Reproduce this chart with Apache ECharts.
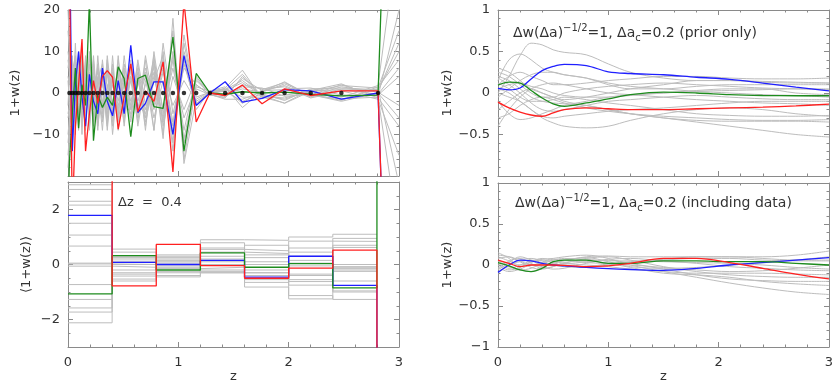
<!DOCTYPE html>
<html><head><meta charset="utf-8">
<script src="https://cdn.jsdelivr.net/npm/echarts@6/dist/echarts.min.js"></script>
<style>html,body{margin:0;padding:0;background:#fff}#c{width:839px;height:386px}</style>
</head><body><div id="c"></div>
<script>
// ---------- DATA ----------
// top-left: node redshifts (bin centres), values at z=0, at each node, and at z=3
const zDots = [0.013,0.039,0.067,0.096,0.127,0.159,0.194,0.231,0.270,0.312,0.356,0.404,0.455,0.509,0.569,0.633,0.702,0.779,0.862,0.951,1.051,1.162,1.286,1.424,1.581,1.759,1.963,2.200,2.478,2.810];
const tlBlue  = [60, 40,-14,2,10,-1,-8,4.5,-2,-5,6, -2,-5.5,3,-5,11.5,-4.7,-2.5,2.7,2.7,-10, 9,-3,0,2.7,-2.2,-1.3,0.8,0.5,-1.5,0, -150];
const tlGreen = [-30, -16.5,-5,6,-8.5,2,-3,22,-11.5,-0.5,-3.5, -1,-3,6.3,3.5,-10.5,3.5,4.3,-3.3,-3.7,13.5, -14,4.7,0,-0.3,0.3,0,0.2,-0.3,-0.7,-0.5, 150];
const tlRed   = [40, 30,-30,-8,2,13,-14,-5,3,-2.5,4, 5.4,3.8,-8.7,-1,7,-4.5,0.5,-2,7.5,-19, 22,-7,0,-0.6,1.9,-2.6,1,-0.6,0.5,0.5, -150];
const tlGray = [
 [15, 10,-8,6,-9,8,-5,7,-6,4,-7, 9,-3,5,-8,6,-2,4,-9,10,-12, 14,-3,0.3,1,-2.5,0.8,2.5,-0.5,2,-0.8, 20],
 [-18, -12,9,-7,5,-10,8,-4,6,-8,3, -5,7,-9,4,-3,7,-6,8,-10,15, -16,2,-0.4,-1.2,4,-1,-2.4,0.8,-1.6,1, -22],
 [8, 5,-4,12,-6,3,-9,10,-2,6,-5, 2,-6,8,-3,4,-6,9,-3,6,-7, 8,-4,0.5,1.5,-3.5,0.5,1.8,-1,1,0.5, 12],
 [-5, -3,6,-10,8,-6,4,-3,9,-4,6, -7,4,-2,6,-7,3,-4,5,-7,10, -11,3,-0.2,0.5,2.5,-0.6,-1.5,0.6,2.2,-1.2, -8],
 [20, 12,-10,4,3,-4,9,-8,4,-6,8, -3,2,-4,7,-2,4,-8,7,-4,6, -6,1.5,0.4,-0.8,1.5,1.2,-0.8,-0.3,-1.8,1.5, 8],
 [-10, -6,3,-4,10,-8,2,5,-7,9,-4, 5,-8,3,-5,8,-4,6,-2,8,-14, 12,-2.5,0,1.2,5.5,-1.4,1,1.2,-0.5,-0.5, 4],
 [4, 2,7,-6,-3,6,-7,4,-3,2,-9, 6,-4,6,-2,-5,8,-3,9,-8,4, -4,3.5,-0.3,-1.5,-1.5,0.3,2.7,-0.8,1.5,0.2, -3],
 [-12, -8,-2,8,-7,10,-3,-2,8,-5,4, -9,5,-6,9,-4,2,5,-6,3,-8, 10,-1,0.2,0.8,3,-0.5,-2.5,0.4,-1,1.8, 40],
 [6, 9,-12,3,6,-2,7,-9,2,5,-3, 7,-10,4,-4,3,-7,8,-9,12,-5, 6,2,-0.5,-1,2,1,1.5,-1.2,0.5,-1.5, -15],
 [-6, -4,5,9,-4,-5,6,2,-8,3,7, -6,3,-3,2,6,-5,2,6,-11,18, -17,-1.5,0.3,0.4,-2,-0.2,-1.8,1,1.2,0.8, 10],
 [10, 7,-6,-2,9,-7,5,-6,3,-9,5, 2,-7,9,-6,4,-3,-5,4,-6,8, -9,4,-0.2,-0.5,3.5,0.6,0.8,-0.4,-2,0, -6],
 [-15, -10,8,-5,-6,7,-8,9,-4,7,-2, -4,6,-5,5,-6,5,-7,3,9,-10, 7,-3,0.5,1,-1,-1,-0.5,0.3,1.8,1.2, 15],
 [3, -2,4,-8,4,9,-6,3,5,-7,3, -8,9,-7,3,-4,6,-9,10,-5,9, -12,1,-0.4,-0.3,1,0.2,2.2,-0.6,-1.4,-1, -35],
 [-3, 4,-5,6,-7,2,3,-5,7,-3,-6, 8,-5,2,-7,7,-8,3,-4,5,-3, 3,-2,0.1,0.7,4.5,-0.8,-1.2,0.5,0.8,-0.3, 6]
];
// bottom-left: binned averages, Δz = 0.4
const binEdges = [0,0.4,0.8,1.2,1.6,2.0,2.4,2.8];
const blBlue  = [1.79,0.08,0.0,0.15,-0.46,0.3,-0.76];
const blGreen = [-1.07,0.32,-0.2,0.42,-0.1,0.03,-0.85];
const blRed   = [4.5,-0.78,0.73,-0.04,-0.5,-0.13,0.52];
const blTail  = {blue:-10, green:10, red:-10};
const blGray = [
 [2.9,0.56,0.3,0.9,0.88,1.0,1.1],
 [2.73,0.45,-0.45,0.79,-0.82,-1.13,-1.27],
 [2.3,-0.3,0.2,0.55,0.5,0.85,0.84],
 [2.16,0.2,0.1,-0.3,0.7,-0.55,0.62],
 [1.5,-0.42,-0.3,0.3,-0.3,0.6,-0.96],
 [1.07,0.12,0.35,-0.2,0.35,-1.25,0.7],
 [0.67,-0.53,-0.05,0.2,-0.55,0.45,-0.2],
 [0.02,0.0,-0.15,-0.1,-0.65,0.15,-0.08],
 [-0.06,-0.1,0.25,0.1,-0.2,-0.35,-0.25],
 [-0.73,-0.6,-0.25,0.45,0.4,-0.75,0.0],
 [-1.27,-0.2,0.05,-0.25,0.25,-0.05,-0.6],
 [-1.58,0.3,-0.4,0.6,-0.4,0.3,-0.1],
 [-1.73,-0.35,0.15,0.0,0.1,-0.62,0.95],
 [-2.12,0.0,-0.1,-0.3,-0.3,0.05,-1.0],
 [0.05,0.25,0.0,0.15,0.0,-0.4,-0.15]
];
// right panels: smooth curves sampled at these redshifts
const zS = [0,0.1,0.2,0.3,0.4,0.5,0.6,0.8,1.0,1.2,1.5,1.8,2.1,2.4,2.7,3.0];
const trBlue  = [0.055,0.038,0.06,0.17,0.27,0.32,0.345,0.33,0.255,0.235,0.22,0.19,0.165,0.12,0.07,0.025];
const trGreen = [0.095,0.13,0.12,0.03,-0.06,-0.13,-0.16,-0.12,-0.07,-0.02,0.01,0.0,-0.02,-0.03,-0.033,-0.033];
const trRed   = [-0.11,-0.18,-0.23,-0.265,-0.28,-0.24,-0.2,-0.18,-0.19,-0.2,-0.2,-0.19,-0.18,-0.17,-0.155,-0.135];
const trGray = [
 [0.0,0.2,0.45,0.6,0.58,0.52,0.49,0.46,0.35,0.25,0.18,0.15,0.15,0.14,0.13,0.12],
 [0.15,0.4,0.47,0.4,0.3,0.25,0.22,0.18,0.1,0.05,0.05,0.08,0.1,0.1,0.1,0.1],
 [0.0,-0.05,-0.1,-0.2,-0.3,-0.36,-0.4,-0.42,-0.4,-0.33,-0.25,-0.2,-0.18,-0.2,-0.25,-0.28],
 [0.2,0.15,0.05,-0.05,-0.1,-0.12,-0.13,-0.15,-0.2,-0.25,-0.3,-0.35,-0.4,-0.45,-0.5,-0.53],
 [-0.4,-0.2,-0.05,0.05,0.1,0.12,0.1,0.05,0.0,-0.02,-0.05,-0.08,-0.1,-0.12,-0.13,-0.15],
 [0.3,0.25,0.15,0.05,0.0,-0.05,-0.1,-0.15,-0.2,-0.25,-0.3,-0.33,-0.34,-0.34,-0.34,-0.35],
 [0.1,0.2,0.25,0.2,0.15,0.1,0.1,0.12,0.15,0.17,0.2,0.2,0.18,0.17,0.17,0.18],
 [-0.2,-0.1,0.0,0.05,0.0,-0.05,-0.08,-0.05,0.0,0.05,0.1,0.15,0.15,0.13,0.12,0.12],
 [0.05,0.0,-0.1,-0.2,-0.28,-0.3,-0.28,-0.25,-0.22,-0.2,-0.18,-0.15,-0.12,-0.1,-0.1,-0.1],
 [-0.1,-0.25,-0.32,-0.3,-0.25,-0.2,-0.15,-0.1,-0.05,-0.02,0.0,0.02,0.03,0.04,0.05,0.05],
 [0.25,0.2,0.1,0.0,-0.05,-0.05,0.0,0.05,0.08,0.1,0.12,0.1,0.08,0.06,0.05,0.04],
 [-0.05,0.05,0.15,0.22,0.25,0.25,0.22,0.18,0.12,0.08,0.05,0.02,0.0,-0.02,-0.03,-0.05],
 [0.12,0.05,-0.05,-0.1,-0.1,-0.08,-0.05,-0.08,-0.12,-0.15,-0.2,-0.25,-0.27,-0.28,-0.28,-0.27],
 [-0.3,-0.25,-0.15,-0.08,-0.05,-0.08,-0.12,-0.18,-0.22,-0.25,-0.28,-0.3,-0.32,-0.33,-0.33,-0.32],
 [0.05,0.1,0.12,0.08,0.05,0.0,-0.03,-0.05,-0.05,-0.03,0.0,0.03,0.05,0.05,0.0,-0.02],
 [0.18,0.1,0.0,-0.12,-0.2,-0.22,-0.2,-0.15,-0.1,-0.08,-0.05,-0.03,-0.05,-0.07,-0.08,-0.08]
];
const brBlue  = [-0.09,0.0,0.06,0.05,0.02,0.0,-0.01,-0.03,-0.045,-0.055,-0.065,-0.04,0.0,0.03,0.06,0.09];
const brGreen = [0.03,-0.01,-0.06,-0.08,-0.04,0.04,0.06,0.06,0.02,0.02,0.05,0.05,0.04,0.04,0.02,0.0];
const brRed   = [0.06,0.02,-0.02,0.0,0.0,0.0,-0.005,-0.02,-0.01,0.02,0.08,0.08,0.03,-0.04,-0.11,-0.17];
const brGray = [
 [0.1,0.05,0.0,0.03,0.07,0.08,0.1,0.12,0.08,0.0,-0.08,-0.15,-0.22,-0.28,-0.33,-0.36],
 [0.15,0.08,-0.05,-0.08,-0.03,0.02,0.05,0.1,0.11,0.1,0.1,0.1,0.1,0.1,0.12,0.17],
 [-0.05,0.05,0.08,0.02,-0.04,-0.02,0.03,0.05,0.02,-0.03,-0.1,-0.12,-0.15,-0.2,-0.23,-0.25],
 [0.05,-0.02,-0.06,-0.04,0.02,0.06,0.08,0.07,0.05,0.05,0.04,0.03,0.02,0.0,-0.03,-0.05],
 [-0.1,0.0,0.06,0.08,0.05,0.0,-0.02,-0.03,0.0,0.03,0.06,0.08,0.08,0.06,0.05,0.05],
 [0.12,0.1,0.04,-0.03,-0.05,-0.02,0.02,0.08,0.1,0.06,-0.02,-0.08,-0.12,-0.14,-0.15,-0.15],
 [0.0,-0.06,-0.03,0.04,0.08,0.05,0.02,0.0,-0.02,-0.05,-0.08,-0.1,-0.1,-0.1,-0.11,-0.12],
 [0.08,0.1,0.05,0.0,0.03,0.07,0.06,0.03,0.02,0.04,0.07,0.1,0.1,0.08,0.06,0.06],
 [-0.03,-0.08,-0.05,0.0,-0.02,-0.05,-0.04,0.02,0.06,0.02,-0.05,-0.12,-0.17,-0.19,-0.2,-0.2],
 [0.06,0.02,0.04,0.06,0.03,0.0,0.01,0.04,0.07,0.08,0.05,0.02,-0.02,-0.04,-0.06,-0.07],
 [-0.06,0.03,0.1,0.06,0.0,0.03,0.06,0.09,0.04,-0.02,-0.04,-0.03,0.0,0.03,0.06,0.1],
 [0.02,-0.04,0.0,0.05,0.06,0.03,-0.01,-0.02,0.01,0.0,-0.03,-0.06,-0.08,-0.07,-0.04,0.0]
];

// ---------- STYLE / BUILD ----------
const FONT = 'DejaVu Sans';
const AX = '#8a8a8a', TXT = '#333';
const C = {gray:'#bdbdbd', blue:'#1f1fff', green:'#1e8c1e', red:'#ff2020'};
const fmt = v => (v < 0 ? '\u2212' : '') + Math.abs(v);
const lbl = (show, extra) => Object.assign({show, color:TXT, fontSize:13, fontFamily:FONT, margin:8}, extra||{});

const grids = [
  {left:68, top:10, width:331, height:166},
  {left:68, top:182, width:331, height:165},
  {left:498, top:10, width:331, height:166},
  {left:498, top:183, width:331, height:164}
];
function xAx(gi, pos, show, name){
  return {type:'value', gridIndex:gi, position:pos, min:0, max:3, interval:1,
    axisLine:{show:true, onZero:false, lineStyle:{color:AX}},
    axisTick:{show:true, inside:true, length:5, lineStyle:{color:AX}},
    minorTick:{show:true, splitNumber:5, length:2.5, lineStyle:{color:AX}},
    splitLine:{show:false},
    axisLabel:lbl(show, {formatter:fmt, margin:9}),
    name: name||'', nameLocation:'middle', nameGap:22,
    nameTextStyle:{color:TXT, fontSize:13, fontFamily:FONT}};
}
function yAx(gi, pos, min, max, interval, minorSplit, show, hide, name, gap){
  return {type:'value', gridIndex:gi, position:pos, min, max, interval,
    axisLine:{show:true, onZero:false, lineStyle:{color:AX}},
    axisTick:{show:true, inside:true, length:5, lineStyle:{color:AX}},
    minorTick:{show:minorSplit>0, splitNumber:minorSplit||5, length:2.5, lineStyle:{color:AX}},
    splitLine:{show:false},
    axisLabel:lbl(show, {formatter: v => (hide!==undefined && Math.abs(v-hide)<1e-9) ? '' : fmt(v)}),
    name: name||'', nameLocation:'middle', nameGap:gap||40,
    nameTextStyle:{color:TXT, fontSize:13, fontFamily:FONT}};
}
const xAxis = [
  xAx(0,'bottom',false), xAx(0,'top',false),
  xAx(1,'bottom',true,'z'), xAx(1,'top',false),
  xAx(2,'bottom',false), xAx(2,'top',false),
  xAx(3,'bottom',true,'z'), xAx(3,'top',false)
];
const blMinor = (pos) => ({type:'value', gridIndex:1, position:pos, min:-3, max:3, interval:0.5,
    axisLine:{show:true, onZero:false, lineStyle:{color:AX}},
    axisTick:{show:true, inside:true, length:2.5, lineStyle:{color:AX}},
    splitLine:{show:false}, axisLabel:{show:false}});
const blMajor = (pos, show) => ({type:'value', gridIndex:1, position:pos, min:-3, max:3,
    axisLine:{show:false, onZero:false},
    axisTick:{show:true, inside:true, length:5, lineStyle:{color:AX}, customValues:[-2,0,2]},
    splitLine:{show:false},
    axisLabel:lbl(show, {customValues:[-2,0,2], formatter:fmt}),
    name: show ? '\u27E81+w(z)\u27E9' : '', nameLocation:'middle', nameGap:35,
    nameTextStyle:{color:TXT, fontSize:13, fontFamily:FONT}});
const yAxis = [
  yAx(0,'left',-20,20,10,5,true,-20,'1+w(z)',46), yAx(0,'right',-20,20,10,5,false),   // 0,1
  blMinor('left'), blMinor('right'), blMajor('left',true), blMajor('right',false),     // 2,3,4,5
  yAx(2,'left',-1,1,0.5,5,true,-1,'1+w(z)',42), yAx(2,'right',-1,1,0.5,5,false),      // 6,7
  yAx(3,'left',-1,1,0.5,5,true,undefined,'1+w(z)',42), yAx(3,'right',-1,1,0.5,5,false) // 8,9
];

const series = [];
function line(xi, yi, pts, color, width, smooth, z){
  series.push({type:'line', xAxisIndex:xi, yAxisIndex:yi, data:pts, showSymbol:false, symbol:'none',
    smooth: smooth||false, clip:true, z: z||2, silent:true,
    lineStyle:{color, width}});
}
// top-left
const zLine = [0].concat(zDots, [3]);
const pairs = (xs, ys) => xs.map((x,i)=>[x, ys[i]]);
tlGray.forEach(g => line(0,0,pairs(zLine,g),C.gray,1));
line(0,0,pairs(zLine,tlBlue),C.blue,1.3,false,3);
line(0,0,pairs(zLine,tlGreen),C.green,1.3,false,3);
line(0,0,pairs(zLine,tlRed),C.red,1.3,false,3);
series.push({type:'scatter', xAxisIndex:0, yAxisIndex:0, data:zDots.map(z=>[z,0]), symbolSize:4.5,
  itemStyle:{color:'#000'}, z:5, silent:true});
// bottom-left
function steps(vals, tail){
  const p = [];
  vals.forEach((v,i)=>{ p.push([binEdges[i], v]); p.push([binEdges[i+1], v]); });
  if (tail !== undefined){ p.push([binEdges[binEdges.length-1], tail]); p.push([3, tail]); }
  return p;
}
blGray.forEach(g => line(2,2,steps(g),C.gray,1));
line(2,2,steps(blBlue,blTail.blue),C.blue,1.3,false,3);
line(2,2,steps(blGreen,blTail.green),C.green,1.3,false,3);
line(2,2,steps(blRed,blTail.red),C.red,1.3,false,3);
// top-right
trGray.forEach(g => line(4,6,pairs(zS,g),C.gray,1,0.35));
line(4,6,pairs(zS,trBlue),C.blue,1.3,0.35,3);
line(4,6,pairs(zS,trGreen),C.green,1.3,0.35,3);
line(4,6,pairs(zS,trRed),C.red,1.3,0.35,3);
// bottom-right
brGray.forEach(g => line(6,8,pairs(zS,g),C.gray,1,0.35));
line(6,8,pairs(zS,brBlue),C.blue,1.3,0.35,3);
line(6,8,pairs(zS,brGreen),C.green,1.3,0.35,3);
line(6,8,pairs(zS,brRed),C.red,1.3,0.35,3);

const rich = {
  m:{fontSize:14, fontFamily:FONT, color:TXT, lineHeight:20},
  sup:{fontSize:10, fontFamily:FONT, color:TXT, verticalAlign:'top', lineHeight:20},
  sub:{fontSize:10, fontFamily:FONT, color:TXT, verticalAlign:'bottom', lineHeight:20}
};
const note = tail => '{m|\u0394w(\u0394a)}{sup|\u22121/2}{m|=1, \u0394a}{sub|c}{m|=0.2 (' + tail + ')}';
const graphic = [
  {type:'text', x:513, y:33, z:10, style:{text:note('prior only'), rich, verticalAlign:'middle', align:'left', fill:TXT, fontSize:14, fontFamily:FONT}},
  {type:'text', x:515, y:203, z:10, style:{text:note('including data'), rich, verticalAlign:'middle', align:'left', fill:TXT, fontSize:14, fontFamily:FONT}},
  {type:'text', x:118, y:203, z:10, style:{text:'\u0394z  =  0.4', verticalAlign:'middle', align:'left', fill:TXT, fontSize:13, fontFamily:FONT}}
];

const chart = echarts.init(document.getElementById('c'), null, {renderer:'canvas'});
chart.setOption({animation:false, backgroundColor:'#fff', grid:grids, xAxis, yAxis, series, graphic});
</script></body></html>
